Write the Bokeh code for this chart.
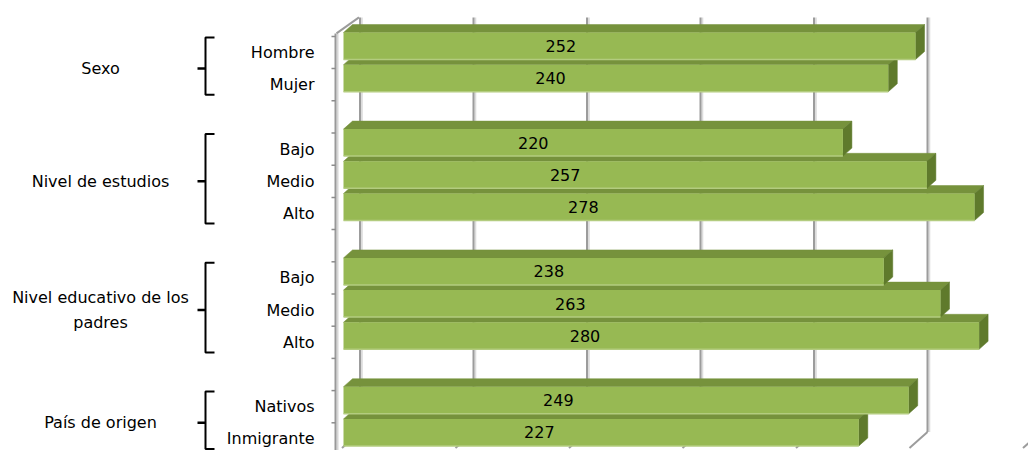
from bokeh.plotting import figure
from bokeh.models import Range1d, ColumnDataSource
from bokeh.core.properties import value
from bokeh.embed import file_html
from bokeh.resources import INLINE

# ---------------- data ----------------
groups = ["Sexo", "Nivel de estudios", "Nivel educativo de los\npadres", "País de origen"]
categories = ["Hombre", "Mujer", "Bajo", "Medio", "Alto", "Bajo", "Medio", "Alto", "Nativos", "Inmigrante"]
group_index = [0, 0, 1, 1, 1, 2, 2, 2, 3, 3]
values = [252, 240, 220, 257, 278, 238, 263, 280, 249, 227]
grid_ticks = [0, 50, 100, 150, 200, 250, 300]

# ---------------- layout constants ----------------
W, H = 1028, 450
PXV = 2.27    # pixels per value unit
PXS = 32.2    # pixels per category slot
X0 = 343      # pixel of value 0
Y0 = 52       # pixel of first slot centre
FONT = value("DejaVu Sans")
FS = "16px"

def dx(px):
    return px / PXV

def dy(px):
    return px / PXS

# slot positions, with one empty slot between groups
slots = []
s = 0
prev = group_index[0]
for g in group_index:
    if g != prev:
        s += 1
        prev = g
    slots.append(s)
    s += 1
n_slots = s

p = figure(width=W, height=H,
           x_range=Range1d(-X0 / PXV, (W - X0) / PXV),
           y_range=Range1d((H - Y0) / PXS, -Y0 / PXS),
           x_axis_type=None, y_axis_type=None,
           output_backend="svg", toolbar_location=None,
           min_border=0, outline_line_color=None)
p.background_fill_color = "white"
p.border_fill_color = "white"

# ---------------- 3D frame ----------------
BACK_DX = 16.5
top_front = -0.5 + dy(-3)
top_back = top_front + dy(-16)
floor_front = n_slots - 0.5 + dy(-7)
floor_back = floor_front + dy(-16)

gx = [t + dx(BACK_DX) for t in grid_ticks]
# soft shadow of gridlines
p.segment(x0=[x + dx(1.8) for x in gx], y0=[top_back] * len(gx),
          x1=[x + dx(1.8) for x in gx], y1=[floor_back] * len(gx),
          line_color="#dcdcdc", line_width=2)
p.segment(x0=gx, y0=[top_back] * len(gx), x1=gx, y1=[floor_back] * len(gx),
          line_color="#9c9c9c", line_width=2)
# floor slants
p.segment(x0=gx, y0=[floor_back] * len(gx),
          x1=[x - dx(18) for x in gx], y1=[floor_front] * len(gx),
          line_color="#9c9c9c", line_width=2)

# left wall
wall_x = dx(-8)
p.segment(x0=[wall_x + dx(2)], y0=[top_front], x1=[wall_x + dx(2)], y1=[floor_front + 1],
          line_color="#d6d6d6", line_width=2)
p.segment(x0=[wall_x], y0=[top_front], x1=[wall_x], y1=[floor_front + 1],
          line_color="#999999", line_width=2)
p.segment(x0=[wall_x + dx(1)], y0=[top_front], x1=[dx(BACK_DX - 1)], y1=[top_back],
          line_color="#9c9c9c", line_width=2)
tick_y = [k - 0.5 for k in range(n_slots + 1)]
p.segment(x0=[dx(-12)] * len(tick_y), y0=tick_y, x1=[wall_x] * len(tick_y), y1=tick_y,
          line_color="#8c8c8c", line_width=1.5)

# ---------------- bars ----------------
BAR_TOP = dy(-20)
BAR_BOT = dy(7)
DEP_X = dx(9)
DEP_Y = dy(-8)

tops_x, tops_y, side_x, side_y = [], [], [], []
for v, sl in zip(values, slots):
    t = sl + BAR_TOP
    b = sl + BAR_BOT
    tops_x.append([0, v, v + DEP_X, DEP_X])
    tops_y.append([t, t, t + DEP_Y, t + DEP_Y])
    side_x.append([v, v, v + DEP_X, v + DEP_X])
    side_y.append([t, b, b + DEP_Y, t + DEP_Y])

p.patches(xs=tops_x, ys=tops_y, fill_color="#76923c", line_color="#76923c", line_width=0.5)
p.patches(xs=side_x, ys=side_y, fill_color="#5f7a2c", line_color="#5f7a2c", line_width=0.5)

src = ColumnDataSource(dict(
    left=[0] * len(values), right=values,
    top=[sl + BAR_TOP for sl in slots], bottom=[sl + BAR_BOT for sl in slots],
    mid=[sl + (BAR_TOP + BAR_BOT) / 2 for sl in slots],
    lab_x=[v * 0.38 for v in values],
    lab=[str(v) for v in values],
    cat_x=[dx(314 - X0)] * len(values),
    slot=slots, cat=categories,
))
p.quad(left="left", right="right", top="top", bottom="bottom", source=src,
       fill_color="#97b953", line_color=None)
# light bottom edge
p.segment(x0="left", y0="bottom", x1="right", y1="bottom", source=src,
          line_color="#b3cc7f", line_width=1.5)

p.text(x="lab_x", y="mid", text="lab", source=src, text_font=FONT, text_font_size=FS,
       text_align="center", text_baseline="middle", text_color="black")

# ---------------- category labels ----------------
p.text(x="cat_x", y="slot", text="cat", source=src,
       text_font=FONT, text_font_size=FS, text_align="right", text_baseline="middle",
       text_color="black")

# ---------------- group braces & labels ----------------
bx = dx(205 - X0)
for gi, gname in enumerate(groups):
    gs = [sl for sl, g in zip(slots, group_index) if g == gi]
    y_top = min(gs) - 0.5 + dy(1)
    y_bot = max(gs) + 0.5 - dy(6)
    y_mid = (min(gs) + max(gs)) / 2
    p.line(x=[bx + dx(9), bx, bx, bx + dx(9)], y=[y_top, y_top, y_bot, y_bot],
           line_color="black", line_width=2)
    p.segment(x0=[bx - dx(8)], y0=[y_mid], x1=[bx], y1=[y_mid], line_color="black", line_width=2.5)
    p.text(x=[dx(100 - X0)], y=[y_mid], text=[gname], text_font=FONT, text_font_size=FS,
           text_align="center", text_baseline="middle", text_color="black",
           text_line_height=1.3)

open("out.html", "w").write(file_html(p, INLINE))
